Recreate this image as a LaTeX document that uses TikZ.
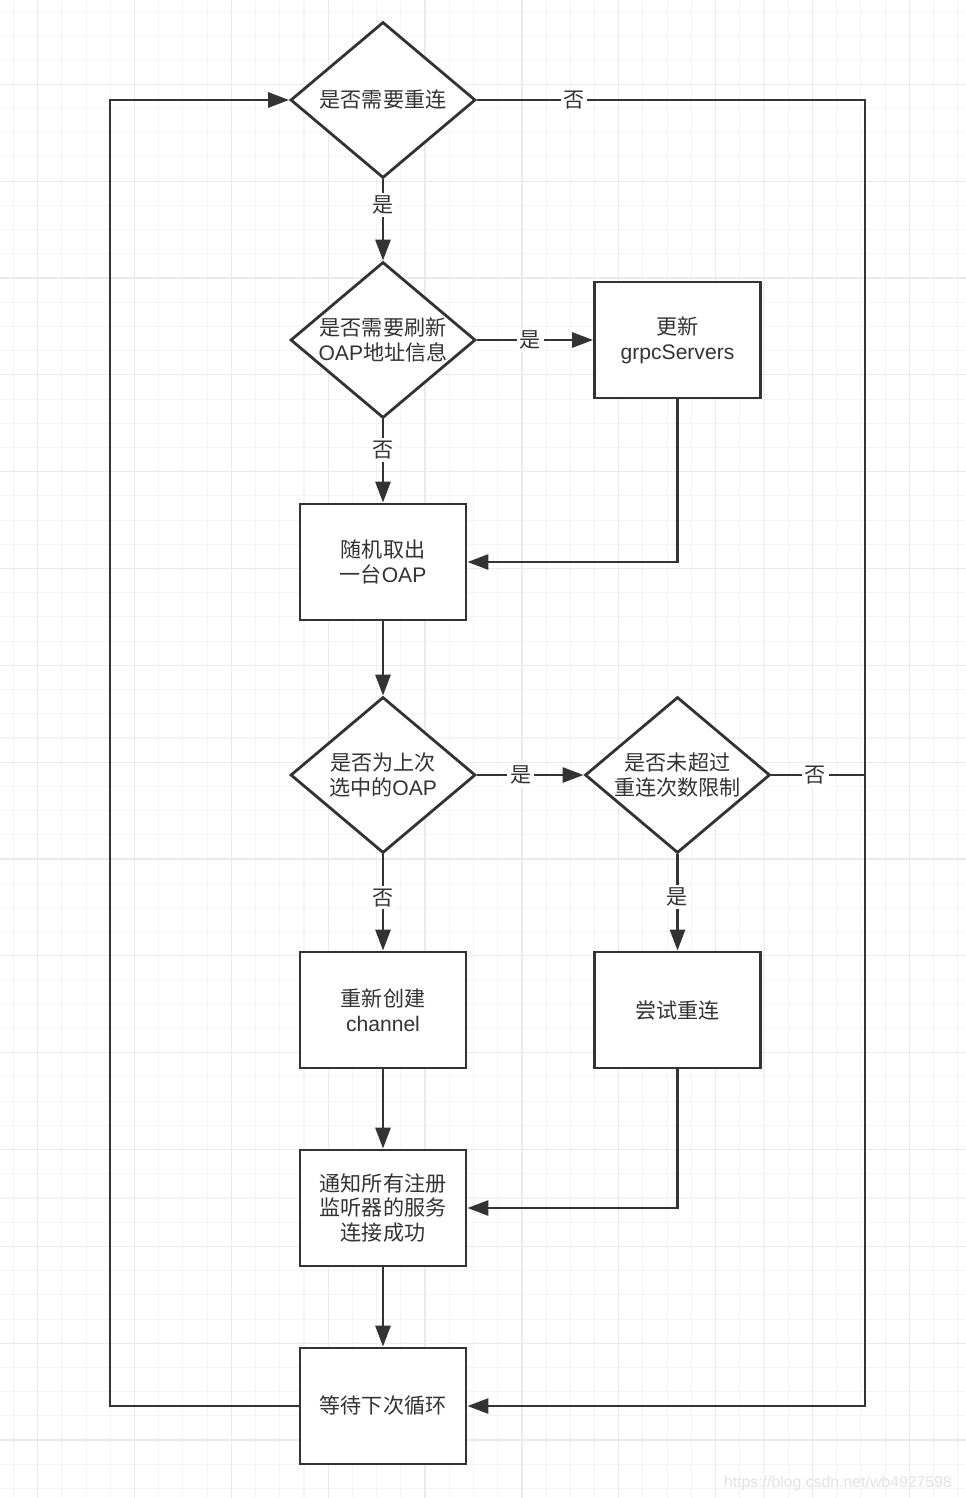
\documentclass[tikz,border=0pt]{standalone}
\usepackage{fontspec}
\setmainfont{Liberation Sans}
\newfontfamily\cjk{Noto Sans CJK SC}
\usepackage{tikz}
\usetikzlibrary{
  arrows.meta,
  positioning,
  shapes.geometric,
  calc
}
\usepackage{xcolor}
\definecolor{ink}{RGB}{51,51,51}
\definecolor{gridminor}{RGB}{244,244,244}
\definecolor{gridmajor}{RGB}{234,234,234}
\definecolor{wmark}{RGB}{226,226,226}
\newcommand{\lat}[1]{{\rmfamily #1}}

\begin{document}
\begin{tikzpicture}[
  every node/.style={font=\cjk\fontsize{12}{14.2}\selectfont, text=ink},
  stepbox/.style={draw=ink, line width=1.6pt, fill=white, minimum width=3.32cm,
                  minimum height=2.32cm, align=center, inner sep=0pt},
  decide/.style={draw=ink, line width=1.6pt, fill=white, diamond, aspect=1.186,
                 minimum width=3.7cm, minimum height=3.12cm, align=center, inner sep=0pt},
  flow/.style={draw=ink, line width=1.6pt},
  lbl/.style={fill=white, inner sep=1.5pt},
  >={Triangle[length=0.42cm, width=0.3cm]}
]

% canvas and grid
\useasboundingbox (0,0) rectangle (19.32,-29.96);
\fill[white] (0,0) rectangle (19.32,-29.96);
\begin{scope}[shift={(0.754,-1.686)}]
  \draw[gridminor, line width=0.6pt, step=0.4842] (-0.754,1.686) grid (18.566,-28.274);
  \draw[gridmajor, line width=0.7pt, step=1.9368] (-0.754,1.686) grid (18.566,-28.274);
\end{scope}

% nodes
\node[decide] (reconn) at (7.66,-2.00) {是否需要重连};
\node[decide] (refresh) at (7.66,-6.80) {是否需要刷新\\\lat{OAP}地址信息};
\node[stepbox] (update) at (13.55,-6.80) {更新\\\lat{grpcServers}};
\node[stepbox] (pick) at (7.66,-11.24) {随机取出\\一台\lat{OAP}};
\node[decide] (same) at (7.66,-15.50) {是否为上次\\选中的\lat{OAP}};
\node[decide] (limit) at (13.55,-15.50) {是否未超过\\重连次数限制};
\node[stepbox] (create) at (7.66,-20.20) {重新创建\\\lat{channel}};
\node[stepbox] (retry) at (13.55,-20.20) {尝试重连};
\node[stepbox] (notify) at (7.66,-24.16) {通知所有注册\\监听器的服务\\连接成功};
\node[stepbox] (wait) at (7.66,-28.12) {等待下次循环};

\coordinate (rrail) at (17.30,-2.00);
\coordinate (lrail) at (2.20,-2.00);

% connectors
\draw[flow, ->] (reconn.south) -- node[lbl, pos=0.32] {是} (refresh.north);
\draw[flow, ->] (reconn.east) -- node[lbl, pos=0.25] {否} (rrail) |- (wait.east);
\draw[flow, ->] (refresh.east) -- node[lbl, pos=0.46] {是} (update.west);
\draw[flow, ->] (refresh.south) -- node[lbl, pos=0.37] {否} (pick.north);
\draw[flow, ->] (update.south) |- (pick.east);
\draw[flow, ->] (pick.south) -- (same.north);
\draw[flow, ->] (same.east) -- node[lbl, pos=0.41] {是} (limit.west);
\draw[flow, ->] (same.south) -- node[lbl, pos=0.45] {否} (create.north);
\draw[flow, ->] (limit.south) -- node[lbl, pos=0.44] {是} (retry.north);
\draw[flow] (limit.east) -- node[lbl, pos=0.47] {否} (limit.east -| rrail);
\draw[flow, ->] (create.south) -- (notify.north);
\draw[flow, ->] (retry.south) |- (notify.east);
\draw[flow, ->] (notify.south) -- (wait.north);
\draw[flow, ->] (wait.west) -| (lrail) -- (reconn.west);

\node[anchor=base east, font=\rmfamily\fontsize{9}{11}\selectfont, text=wmark] (wm)
  at (19.16,-29.74) {https://blog.csdn.net/wb4927598};

\end{tikzpicture}
\end{document}
